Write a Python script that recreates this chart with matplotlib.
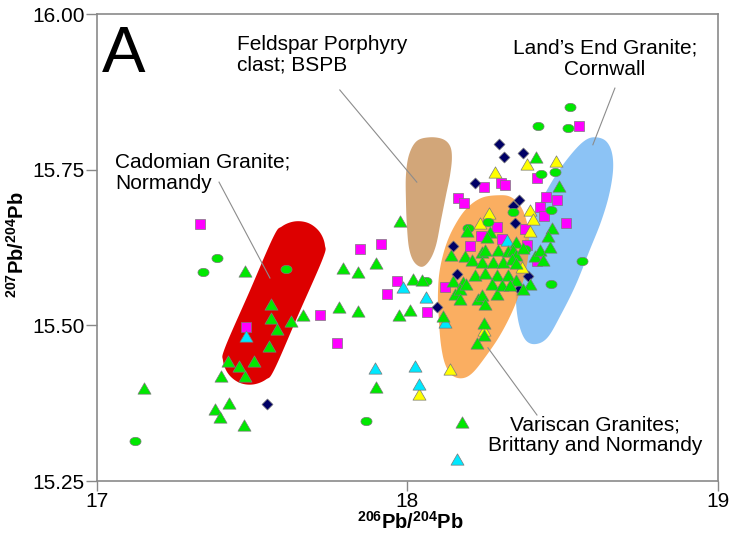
import numpy as np
import matplotlib
matplotlib.use("Agg")
import matplotlib.pyplot as plt
from matplotlib.path import Path
from matplotlib.patches import Polygon

plt.rcParams['font.family'] = ['Liberation Sans', 'DejaVu Sans']
plt.rcParams['mathtext.fontset'] = 'custom'
plt.rcParams['mathtext.bf'] = 'Liberation Sans:bold'
plt.rcParams['mathtext.rm'] = 'Liberation Sans'

# --- sample data (206Pb/204Pb, 207Pb/204Pb) ---
tri_green_x = [17.151, 17.478, 17.559, 17.559, 17.579, 17.625, 17.665, 17.555, 17.422, 17.458,
               17.506, 17.400, 17.478, 17.426, 17.380, 17.396, 17.473, 17.791, 17.840, 17.898,
               17.780, 17.839, 17.898, 17.977, 18.017, 18.046, 17.973, 18.009, 18.115, 18.177,
               18.248, 18.248, 18.225, 18.414, 18.488, 18.467, 18.451, 18.193, 18.265, 18.255,
               18.351, 18.140, 18.185, 18.207, 18.239, 18.249, 18.292, 18.324, 18.340, 18.351,
               18.373, 18.239, 18.276, 18.308, 18.335, 18.351, 18.410, 18.426, 18.460, 18.438,
               18.147, 18.179, 18.217, 18.249, 18.287, 18.324, 18.351, 18.394, 18.371, 18.153,
               18.169, 18.169, 18.228, 18.239, 18.249, 18.287, 18.271, 18.303, 18.330, 18.190]
tri_green_y = [15.399, 15.588, 15.534, 15.511, 15.494, 15.507, 15.516, 15.467, 15.442, 15.435,
               15.443, 15.419, 15.418, 15.376, 15.366, 15.353, 15.340, 15.592, 15.586, 15.600,
               15.529, 15.523, 15.401, 15.668, 15.574, 15.573, 15.517, 15.524, 15.515, 15.345,
               15.503, 15.484, 15.471, 15.770, 15.723, 15.656, 15.644, 15.652, 15.650, 15.642,
               15.634, 15.613, 15.611, 15.605, 15.618, 15.621, 15.621, 15.620, 15.621, 15.613,
               15.624, 15.602, 15.602, 15.602, 15.607, 15.600, 15.612, 15.621, 15.626, 15.605,
               15.571, 15.569, 15.581, 15.584, 15.581, 15.581, 15.573, 15.567, 15.559, 15.551,
               15.559, 15.543, 15.543, 15.549, 15.534, 15.551, 15.567, 15.565, 15.565, 15.566]

circ_green_x = [17.121, 17.342, 17.387, 17.609, 17.866, 18.061, 18.196, 18.260, 18.339,
                18.380, 18.421, 18.431, 18.462, 18.462, 18.476, 18.518, 18.523, 18.563]
circ_green_y = [15.315, 15.585, 15.608, 15.590, 15.346, 15.572, 15.656, 15.666, 15.682,
                15.622, 15.820, 15.743, 15.685, 15.566, 15.747, 15.817, 15.850, 15.603]

sq_magenta_x = [17.332, 17.479, 17.718, 17.774, 17.847, 17.915, 17.934, 17.966, 18.063, 18.122,
                18.163, 18.182, 18.201, 18.246, 18.302, 18.314, 18.236, 18.287, 18.303, 18.377,
                18.416, 18.426, 18.439, 18.445, 18.480, 18.512, 18.553, 18.384, 18.416]
sq_magenta_y = [15.663, 15.497, 15.517, 15.471, 15.622, 15.631, 15.550, 15.571, 15.522, 15.561,
                15.704, 15.696, 15.628, 15.722, 15.728, 15.725, 15.643, 15.658, 15.638, 15.655,
                15.736, 15.690, 15.675, 15.706, 15.701, 15.664, 15.820, 15.629, 15.603]

dia_navy_x = [17.546, 18.095, 18.147, 18.161, 18.216, 18.295, 18.311, 18.340, 18.346,
              18.360, 18.373, 18.387, 18.360]
dia_navy_y = [15.373, 15.529, 15.628, 15.583, 15.728, 15.791, 15.770, 15.691, 15.664,
              15.701, 15.777, 15.579, 15.559]

tri_cyan_x = [17.479, 17.895, 17.986, 18.060, 18.024, 18.037, 18.121, 18.158, 18.321]
tri_cyan_y = [15.483, 15.431, 15.562, 15.545, 15.435, 15.405, 15.506, 15.286, 15.637]

tri_yellow_x = [18.037, 18.138, 18.248, 18.233, 18.263, 18.282, 18.384, 18.394, 18.404,
                18.394, 18.478, 18.368]
tri_yellow_y = [15.390, 15.430, 15.493, 15.664, 15.680, 15.746, 15.759, 15.686, 15.670,
                15.652, 15.764, 15.594]

# --- field outlines (data units) ---
cadomian_x = [17.727, 17.734, 17.717, 17.682, 17.638, 17.596, 17.568, 17.490, 17.413, 17.406,
              17.423, 17.458, 17.502, 17.544, 17.572, 17.650]
cadomian_y = [15.607, 15.629, 15.650, 15.664, 15.667, 15.659, 15.642, 15.553, 15.465, 15.443,
              15.422, 15.408, 15.405, 15.413, 15.430, 15.519]

feldspar_x = [18.072, 18.114, 18.137, 18.143, 18.137, 18.124, 18.108, 18.092, 18.072, 18.047,
              18.021, 18.005, 17.998, 17.995, 17.995, 18.005, 18.030]
feldspar_y = [15.802, 15.799, 15.788, 15.769, 15.741, 15.709, 15.669, 15.629, 15.605, 15.594,
              15.602, 15.624, 15.661, 15.701, 15.741, 15.774, 15.796]

variscan_x = [18.298, 18.333, 18.362, 18.381, 18.391, 18.388, 18.369, 18.340, 18.298, 18.249,
              18.208, 18.175, 18.143, 18.121, 18.108, 18.101, 18.098, 18.104, 18.124, 18.153,
              18.191, 18.240]
variscan_y = [15.709, 15.706, 15.693, 15.672, 15.645, 15.608, 15.565, 15.525, 15.484, 15.448,
              15.423, 15.415, 15.420, 15.438, 15.468, 15.509, 15.549, 15.589, 15.629, 15.661,
              15.688, 15.705]

landsend_x = [18.607, 18.639, 18.658, 18.662, 18.649, 18.623, 18.587, 18.542, 18.494, 18.452,
              18.414, 18.381, 18.359, 18.349, 18.352, 18.369, 18.394, 18.436, 18.484, 18.536,
              18.575]
landsend_y = [15.802, 15.796, 15.778, 15.749, 15.709, 15.666, 15.621, 15.565, 15.517, 15.481,
              15.470, 15.476, 15.502, 15.541, 15.581, 15.621, 15.661, 15.705, 15.746, 15.780,
              15.798]

x_ticks = [17, 18, 19]
y_ticks = [15.25, 15.50, 15.75, 16.00]


def closed_curve(xs, ys, steps=12):
    p = np.column_stack([xs, ys])
    n = len(p)
    t = np.linspace(0, 1, steps, endpoint=False)[:, None]
    parts = []
    for i in range(n):
        p0, p1, p2, p3 = p[i - 1], p[i], p[(i + 1) % n], p[(i + 2) % n]
        parts.append(0.5 * (2 * p1 + (-p0 + p2) * t + (2 * p0 - 5 * p1 + 4 * p2 - p3) * t ** 2
                            + (-p0 + 3 * p1 - 3 * p2 + p3) * t ** 3))
    return np.vstack(parts)


tri_marker = Path([(0, 0.433), (-0.5, -0.433), (0.5, -0.433), (0, 0.433)],
                  [Path.MOVETO, Path.LINETO, Path.LINETO, Path.CLOSEPOLY])
_th = np.linspace(0, 2 * np.pi, 40)
ell_marker = Path(np.column_stack([np.cos(_th), 0.75 * np.sin(_th)]))

fig = plt.figure(figsize=(7.31, 5.39), dpi=100)
ax = fig.add_axes([0.1327, 0.1076, 0.8495, 0.8664])

ax.add_patch(Polygon(closed_curve(landsend_x, landsend_y), closed=True, fc='#8cc3f5', ec='none', zorder=1))
ax.add_patch(Polygon(closed_curve(variscan_x, variscan_y), closed=True, fc='#f99a3a', ec='none', alpha=0.8, zorder=1.1))
ax.add_patch(Polygon(closed_curve(feldspar_x, feldspar_y), closed=True, fc='#d2a679', ec='none', zorder=1.2))
ax.add_patch(Polygon(closed_curve(cadomian_x, cadomian_y), closed=True, fc='#dd0000', ec='none', zorder=1.3))

edge = dict(edgecolors='#7a7a7a', linewidths=0.5)
ax.scatter(sq_magenta_x, sq_magenta_y, marker='s', s=7.2 ** 2, c='#ff00ff', zorder=3, **edge)
ax.scatter(dia_navy_x, dia_navy_y, marker='D', s=5.6 ** 2, c='#000066', zorder=3.1, **edge)
ax.scatter(tri_yellow_x, tri_yellow_y, marker=tri_marker, s=9.4 ** 2, c='#ffff00', zorder=3.2, **edge)
ax.scatter(tri_cyan_x, tri_cyan_y, marker=tri_marker, s=9.4 ** 2, c='#00e8ff', zorder=3.3, **edge)
ax.scatter(circ_green_x, circ_green_y, marker=ell_marker, s=8.0 ** 2, c='#00e800', zorder=3.4, **edge)
ax.scatter(tri_green_x, tri_green_y, marker=tri_marker, s=9.4 ** 2, c='#00e800', zorder=3.5, **edge)

# leader lines
lc = dict(color='#8c8c8c', lw=0.8, zorder=2)
ax.plot([17.782, 18.030], [15.878, 15.730], **lc)
ax.plot([17.393, 17.557], [15.730, 15.576], **lc)
ax.plot([18.668, 18.597], [15.881, 15.790], **lc)
ax.plot([18.259, 18.417], [15.464, 15.356], **lc)

lab = dict(transform=ax.transAxes, fontsize=15, va='top', linespacing=1.12, zorder=4)
ax.text(0.2254, 0.956, "Feldspar Porphyry\nclast; BSPB", ha='left', **lab)
ax.text(0.029, 0.703, "Cadomian Granite;\nNormandy", ha='left', **lab)
ax.text(0.818, 0.947, "Land\u2019s End Granite;\nCornwall", ha='center', multialignment='center', **lab)
ax.text(0.802, 0.140, "Variscan Granites;\nBrittany and Normandy", ha='center', multialignment='center', **lab)
ax.text(0.008, 0.876, "A", transform=ax.transAxes, fontsize=47, ha='left', va='baseline')

ax.set_xlim(17, 19)
ax.set_ylim(15.25, 16.00)
ax.set_xticks(x_ticks)
ax.set_yticks(y_ticks)
ax.set_xticklabels([f"{v:d}" for v in x_ticks])
ax.set_yticklabels([f"{v:.2f}" for v in y_ticks])
ax.tick_params(axis='both', labelsize=15, color='#888888', width=1.0, direction='out')
ax.tick_params(axis='y', length=8, pad=1)
ax.tick_params(axis='x', length=7, pad=1)
for s in ax.spines.values():
    s.set_color('#8a8a8a')
    s.set_linewidth(1.2)

ax.set_xlabel(r"$\mathbf{^{206}Pb/^{204}Pb}$", fontsize=14.5)
ax.xaxis.set_label_coords(0.504, -0.064)
ax.set_ylabel(r"$\mathbf{^{207}Pb/^{204}Pb}$", fontsize=14.5)
ax.yaxis.set_label_coords(-0.112, 0.505)

fig.savefig("out.png", dpi=100)
